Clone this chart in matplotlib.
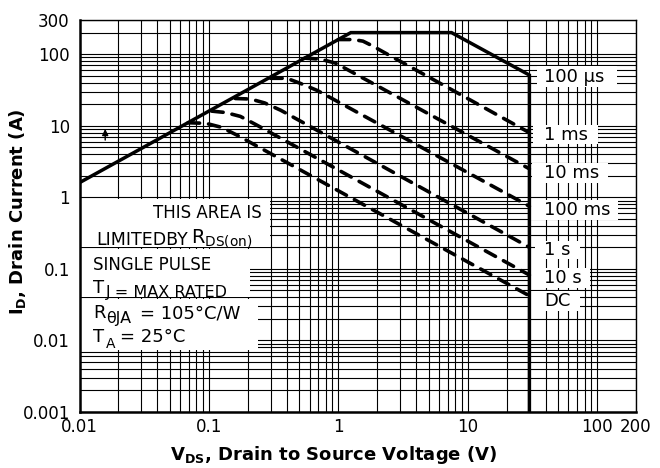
import numpy as np
import matplotlib
matplotlib.use('Agg')
import matplotlib.pyplot as plt
from matplotlib.ticker import LogLocator, NullFormatter
from matplotlib.patches import Rectangle

# Safe operating area
# solid boundary: RDS(on) limit -> current limit -> 100 us power line -> BVdss
limit_v = [0.01, 1.25, 7.5, 30, 30]
limit_i = [1.6, 200, 200, 51, 0.001]

# dashed pulse curves (V, A)
v_1ms = [1.0, 1.3, 1.55, 1.8, 2.3, 30]
i_1ms = [160, 160, 152, 133, 104, 8.0]
v_10ms = [0.55, 0.73, 0.95, 1.28, 30]
i_10ms = [88, 85, 75, 56, 2.5]
v_100ms = [0.3, 0.4, 0.51, 0.69, 30]
i_100ms = [46, 46, 39, 31, 0.75]
v_1s = [0.16, 0.21, 0.27, 0.36, 30]
i_1s = [24, 23.6, 20.8, 16.4, 0.2]
v_10s = [0.105, 0.134, 0.175, 0.23, 30]
i_10s = [16, 15.3, 13.5, 10.4, 0.082]
v_dc = [0.069, 0.095, 0.125, 0.167, 30]
i_dc = [11, 10.8, 9.5, 7.3, 0.042]

curve_labels = ['100 \u03bcs', '1 ms', '10 ms', '100 ms', '1 s', '10 s', 'DC']

x_ticks = [0.01, 0.1, 1, 10, 100, 200]
x_tick_labels = ['0.01', '0.1', '1', '10', '100', '200']
y_ticks = [0.001, 0.01, 0.1, 1, 10, 100, 300]
y_tick_labels = ['0.001', '0.01', '0.1', '1', '10', '100', '300']

W, H = 660, 468
fig = plt.figure(figsize=(W / 100, H / 100), dpi=100)
ax = fig.add_axes([79.5 / W, 1 - 412 / H, (636 - 79.5) / W, (412 - 20) / H])


def fpos(x, y):
    # pixel (top-left origin) -> figure fraction
    return x / W, 1 - y / H


def white_box(x0, y0, x1, y1):
    r = Rectangle(fpos(x0, y1), (x1 - x0) / W, (y1 - y0) / H, transform=fig.transFigure,
                  facecolor='white', edgecolor='none', zorder=2)
    ax.add_patch(r)


def put(x, y, s, size, **kw):
    fig.text(*fpos(x, y), s, fontsize=size, color='black', **kw)


ax.set_xscale('log')
ax.set_yscale('log')
ax.set_xlim(0.01, 200)
ax.set_ylim(0.001, 300)

ax.set_xticks(x_ticks)
ax.set_xticklabels(x_tick_labels)
ax.set_yticks(y_ticks)
ax.set_yticklabels(y_tick_labels)
ax.xaxis.set_minor_locator(LogLocator(base=10, subs=np.arange(2, 10) * 1.0, numticks=100))
ax.yaxis.set_minor_locator(LogLocator(base=10, subs=np.arange(2, 10) * 1.0, numticks=100))
ax.xaxis.set_minor_formatter(NullFormatter())
ax.yaxis.set_minor_formatter(NullFormatter())
ax.tick_params(which='both', length=0, labelsize=12, colors='black')
ax.tick_params(axis='x', pad=4.5)
ax.tick_params(axis='y', pad=7)

ax.set_axisbelow(True)
ax.grid(True, which='both', color='black', linewidth=0.8)
for side in ['left', 'bottom']:
    ax.spines[side].set_linewidth(1.8)
for side in ['top', 'right']:
    ax.spines[side].set_linewidth(1.0)

# boundary and pulse curves
ax.plot(limit_v, limit_i, color='black', lw=2.5, solid_joinstyle='miter', zorder=4)
for v, i in [(v_1ms, i_1ms), (v_10ms, i_10ms), (v_100ms, i_100ms),
             (v_1s, i_1s), (v_10s, i_10s), (v_dc, i_dc)]:
    ax.plot(v, i, color='black', lw=2.6, linestyle=(0, (3.2, 2.5)),
            dash_capstyle='round', zorder=3)

ax.annotate('', xy=(0.0158, 9.0), xytext=(0.0158, 6.3),
            arrowprops=dict(arrowstyle='-|>', color='black', lw=1.0,
                            mutation_scale=9, shrinkA=0, shrinkB=0))

# text panels on the left
white_box(81, 199, 270, 246.5)
white_box(81, 248.5, 250, 297)
white_box(81, 298.5, 258, 350)
put(262, 213, 'THIS AREA IS', 12, ha='right', va='center')
put(96.7, 245, 'LIMITEDBY', 12.5, ha='left', va='baseline')
put(191, 243, r'R$_{\mathregular{DS(on)}}$', 14, ha='left', va='baseline')
put(93, 265, 'SINGLE PULSE', 12, ha='left', va='center')
put(93, 293, 'T', 13, ha='left', va='baseline')
put(106, 297, 'J = MAX RATED', 11.5, ha='left', va='baseline')
put(93, 318, 'R', 13, ha='left', va='baseline')
put(106.5, 323, '\u03b8JA', 11.5, ha='left', va='baseline')
put(140, 318, '= 105\u00b0C/W', 13, ha='left', va='baseline')
put(93, 341.7, 'T', 13, ha='left', va='baseline')
put(106, 348, 'A', 10, ha='left', va='baseline')
put(120, 341.7, '= 25\u00b0C', 13, ha='left', va='baseline')

# curve labels on the right
label_boxes = [(537, 66, 617, 87), (533, 125, 598, 144), (532, 163, 608, 183),
               (530, 200, 618, 220), (535, 241, 580, 259), (530, 268, 590, 288),
               (530, 291, 580, 311)]
label_y = [76.7, 135, 173, 210, 250, 278, 301]
for text, box, y in zip(curve_labels, label_boxes, label_y):
    white_box(*box)
    put(544, y, text, 13, ha='left', va='center')

# axis titles
put(334, 455, r'$\mathbf{V_{DS}}$, Drain to Source Voltage (V)', 13,
    ha='center', va='center', fontweight='bold')
put(17.5, 212, r'$\mathbf{I_D}$, Drain Current (A)', 13,
    ha='center', va='center', fontweight='bold', rotation=90)

fig.savefig('out.png', dpi=100)
